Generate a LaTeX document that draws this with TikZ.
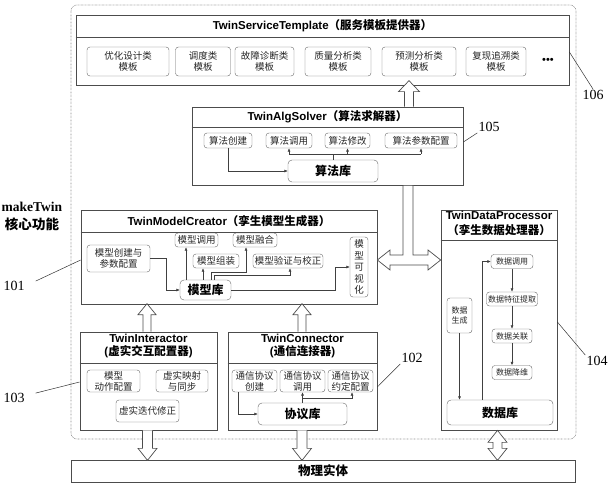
\documentclass[tikz,border=0pt]{standalone}
\usepackage{fontspec}
\setmainfont{Liberation Sans}
\newfontfamily\cjk{Noto Sans CJK SC}
\newfontfamily\serif{Liberation Serif}
\usetikzlibrary{arrows.meta,calc}

\tikzset{
  frame/.style={draw=black!70, line width=0.7pt, inner sep=0pt},
  title/.style={font=\bfseries\fontsize{11.5}{13.5}\selectfont, align=center, inner sep=0pt},
  item/.style={draw=black!60, rounded corners=3pt, inner sep=0pt, align=center, text=black!85,
    font=\cjk\fontsize{9.5}{11}\selectfont},
  small/.style={item, font=\cjk\fontsize{8}{9.5}\selectfont},
  lib/.style={draw=black!60, rounded corners=4pt, inner sep=0pt, font=\cjk\bfseries\fontsize{12}{14}\selectfont},
  link/.style={draw=black!75, line width=0.5pt, -{Latex[length=3.5pt,width=3pt]}},
  fat/.style={draw=black!70, fill=white, line width=0.7pt},
  lead/.style={draw=black!80, line width=0.5pt},
  tag/.style={font=\serif\fontsize{14}{16}\selectfont, inner sep=1pt},
  outer/.style={draw=black!45, line width=0.6pt, dash pattern=on 0.6pt off 0.8pt, rounded corners=6pt},
}

\begin{document}
\begin{tikzpicture}[x=1pt, y=-1pt]
\useasboundingbox (0,0) rectangle (609,484);

% makeTwin core
\draw[outer] (71,5) rectangle (576,439);
\node[font=\serif\bfseries\fontsize{13.5}{18}\selectfont, align=center] (core) at (32,216) {makeTwin\\{\cjk 核心功能}};

% service templates
\node[frame, minimum width=493pt, minimum height=70pt] (svc) at (322.5,50) {};
\draw[frame] (svc.west |- 0,37) -- (svc.east |- 0,37);
\node[title] (svcT) at (322.5,26) {TwinServiceTemplate{\cjk （服务模板提供器）}};
\node[item, minimum width=82pt, minimum height=29pt] (t1) at (128,61.5) {优化设计类\\模板};
\node[item, minimum width=55pt, minimum height=29pt] (t2) at (203,61.5) {调度类\\模板};
\node[item, minimum width=59pt, minimum height=29pt] (t3) at (264.5,61.5) {故障诊断类\\模板};
\node[item, minimum width=66pt, minimum height=29pt] (t4) at (338,61.5) {质量分析类\\模板};
\node[item, minimum width=74pt, minimum height=29pt] (t5) at (419,61.5) {预测分析类\\模板};
\node[item, minimum width=60pt, minimum height=29pt] (t6) at (496,61.5) {复现追溯类\\模板};
\node[font=\fontsize{11}{11}\selectfont, inner sep=0pt] (more) at (548,61) {•••};

% algorithm solver
\node[frame, minimum width=271pt, minimum height=78pt] (alg) at (327.5,146) {};
\draw[frame] (alg.west |- 0,127) -- (alg.east |- 0,127);
\node[title] (algT) at (327.5,117) {TwinAlgSolver{\cjk （算法求解器）}};
\node[item, minimum width=48pt, minimum height=15pt] (anew) at (228,140.5) {算法创建};
\node[item, minimum width=46pt, minimum height=15pt] (acall) at (289,140.5) {算法调用};
\node[item, minimum width=45pt, minimum height=15pt] (amod) at (347.5,140.5) {算法修改};
\node[item, minimum width=72pt, minimum height=15pt] (apar) at (421,140.5) {算法参数配置};
\node[lib, minimum width=90pt, minimum height=22pt] (alib) at (333,171) {算法库};
\draw[link] (anew.south) |- (alib.west);
\draw[draw=black!75, line width=0.5pt] (alib.north) -- (alib.north |- 0,154)
  (acall.south |- 0,154) -- (apar.south |- 0,154);
\foreach \n in {acall,amod,apar}
  \draw[link] (\n.south |- 0,154) -- (\n.south);

% model creator
\node[frame, minimum width=296pt, minimum height=94pt] (mc) at (229,257) {};
\draw[frame] (mc.west |- 0,232) -- (mc.east |- 0,232);
\node[title] (mcT) at (229,221) {TwinModelCreator{\cjk （孪生模型生成器）}};
\node[item, minimum width=63pt, minimum height=27pt] (mnew) at (118.5,258.5) {模型创建与\\参数配置};
\node[item, minimum width=43pt, minimum height=14pt] (mcall) at (196.5,240) {模型调用};
\node[item, minimum width=44pt, minimum height=14pt] (mfuse) at (255,240) {模型融合};
\node[item, minimum width=46pt, minimum height=14pt] (mbuild) at (216,261) {模型组装};
\node[item, minimum width=70pt, minimum height=14pt] (mchk) at (288,261) {模型验证与校正};
\node[item, minimum width=18pt, minimum height=60pt, font=\cjk\fontsize{9.5}{11.5}\selectfont] (mviz) at (359,267) {模\\型\\可\\视\\化};
\node[lib, minimum width=51pt, minimum height=20pt] (mlib) at (205.5,290) {模型库};
\draw[link] (mnew.east) -- ++(16,0) |- (mlib.west);
\draw[link] (mlib.north -| 186,0) -- (mcall.south -| 186,0);
\draw[link] (mlib.north -| 203,0) -- (mbuild.south -| 203,0);
\draw[link] (mlib.north -| 211,0) |- (246,272) -- (mfuse.south -| 246,0);
\draw[link] (mlib.north -| 214,0) |- (290,275) -- (mchk.south -| 290,0);
\draw[link] (mlib.east) -- ++(104,0) |- (mviz.west);

% data processor
\node[frame, minimum width=116pt, minimum height=220pt] (dp) at (499,320) {};
\draw[frame] (dp.west |- 0,240) -- (dp.east |- 0,240);
\node[title, font=\bfseries\fontsize{11.5}{15}\selectfont] (dpT) at (499,223.5) {TwinDataProcessor\\{\cjk （孪生数据处理器）}};
\node[small, minimum width=42pt, minimum height=14pt] (dcall) at (512,261.5) {数据调用};
\node[small, minimum width=51pt, minimum height=14pt] (dfeat) at (512,299) {数据特征提取};
\node[small, minimum width=40pt, minimum height=14pt] (dlink) at (512,336) {数据关联};
\node[small, minimum width=40pt, minimum height=14pt] (dred) at (512,372.5) {数据降维};
\node[small, minimum width=25pt, minimum height=35pt] (dgen) at (459.5,315.5) {数据\\生成};
\node[lib, minimum width=106pt, minimum height=25pt] (dlib) at (500,412.5) {数据库};
\draw[link] (dgen.south) -- (dlib.north -| dgen.south);
\draw[link] (dlib.north -| 482,0) |- (dcall.west);
\draw[link] (dcall.south) -- (dfeat.north);
\draw[link] (dfeat.south) -- (dlink.north);
\draw[link] (dlink.south) -- (dred.north);

% interactor
\node[frame, minimum width=137pt, minimum height=98pt] (ti) at (148.5,381) {};
\draw[frame] (ti.west |- 0,363) -- (ti.east |- 0,363);
\node[title, font=\bfseries\fontsize{11.5}{13}\selectfont] (tiT) at (148.5,346.5) {TwinInteractor\\({\cjk 虚实交互配置器})};
\node[item, minimum width=53pt, minimum height=22pt] (iact) at (113.5,381) {模型\\动作配置};
\node[item, minimum width=52pt, minimum height=22pt] (isync) at (182,381) {虚实映射\\与同步};
\node[item, minimum width=63pt, minimum height=22pt] (ifix) at (147.5,411) {虚实迭代修正};

% connector
\node[frame, minimum width=149pt, minimum height=98pt] (tc) at (302.5,381) {};
\draw[frame] (tc.west |- 0,363) -- (tc.east |- 0,363);
\node[title, font=\bfseries\fontsize{11.5}{13}\selectfont] (tcT) at (302.5,346.5) {TwinConnector\\({\cjk 通信连接器})};
\node[item, minimum width=45pt, minimum height=22pt] (pnew) at (254.5,381) {通信协议\\创建};
\node[item, minimum width=45pt, minimum height=22pt] (pcall) at (302.5,381) {通信协议\\调用};
\node[item, minimum width=45pt, minimum height=22pt] (pconf) at (350.5,381) {通信协议\\约定配置};
\node[lib, minimum width=89pt, minimum height=22pt] (plib) at (302.5,414) {协议库};
\draw[link] (pnew.south -| 238,0) |- (plib.west);
\draw[link] (plib.north) -- (pcall.south);
\draw[link] (plib.north |- 0,398) -| (pconf.south -| 352,0);

% physical entity
\node[frame, minimum width=504pt, minimum height=22pt, font=\cjk\bfseries\fontsize{12.5}{14}\selectfont] (phys) at (323,471) {物理实体};

% hollow arrows
\coordinate (u1) at (alg.north -| 409,0);
\draw[fat] (u1) ++(-4.5,0) -- ++(0,-15) -- ++(-6,0) -- ++(10.5,-11) -- ++(10.5,11) -- ++(-6,0) -- ++(0,15);
\coordinate (u2) at (ti.north -| 147,0);
\draw[fat] (u2) ++(-4,0) -- ++(0,-17) -- ++(-5,0) -- ++(9,-11) -- ++(9,11) -- ++(-5,0) -- ++(0,17);
\coordinate (u3) at (tc.north -| 302,0);
\draw[fat] (u3) ++(-4,0) -- ++(0,-17) -- ++(-5,0) -- ++(9,-11) -- ++(9,11) -- ++(-5,0) -- ++(0,17);
\coordinate (d1) at (ti.south -| 147.5,0);
\draw[fat] (d1) ++(-5,0) -- ++(0,18) -- ++(-4.5,0) -- ++(9.5,12) -- ++(9.5,-12) -- ++(-4.5,0) -- ++(0,-18);
\coordinate (d2) at (tc.south -| 302,0);
\draw[fat] (d2) ++(-5,0) -- ++(0,18) -- ++(-4.5,0) -- ++(9.5,12) -- ++(9.5,-12) -- ++(-4.5,0) -- ++(0,-18);
\coordinate (d3) at (dp.south -| 497.5,0);
\draw[fat] (d3) -- ++(9.5,12) -- ++(-5,0) -- ++(0,6) -- ++(5,0) -- ++(-9.5,12) -- ++(-9.5,-12)
  -- ++(5,0) -- ++(0,-6) -- ++(-5,0) -- cycle;
\draw[fat] (mc.east |- 0,260) -- (390,250) -- (390,255) -- (403,255) -- (alg.south -| 403,0)
  -- (alg.south -| 413,0) -- (413,255) -- (428,255) -- (428,250) -- (dp.west |- 0,260)
  -- (428,270) -- (428,265) -- (390,265) -- (390,270) -- cycle;

% reference numbers
\node[tag] (n106) at (593,95) {106};
\draw[lead] (svc.east |- 0,52) -- (n106.north);
\node[tag] (n105) at (489,127) {105};
\draw[lead] (alg.east |- 0,142) -- (n105.south west);
\node[tag] (n104) at (597,361) {104};
\draw[lead] (dp.east |- 0,322) -- (n104.north west);
\node[tag] (n102) at (412,358) {102};
\draw[lead] (tc.east |- 0,387) -- (n102.south west);
\node[tag] (n101) at (14,286) {101};
\draw[lead] (mc.west |- 0,260) -- ($(n101.north east)+(10,1)$);
\node[tag] (n103) at (14,398) {103};
\draw[lead] (ti.west |- 0,382) -- ($(n103.north east)+(10,1)$);
\end{tikzpicture}
\end{document}
